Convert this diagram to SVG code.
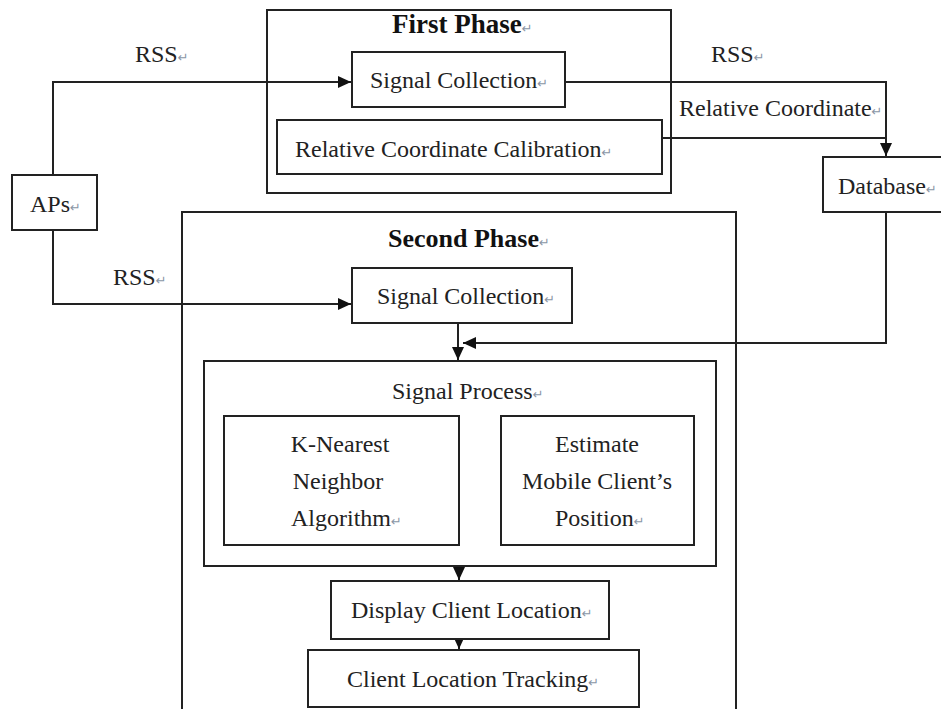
<svg xmlns="http://www.w3.org/2000/svg" width="941" height="709" viewBox="0 0 941 709">
<style>
  .box { fill: #fff; stroke: #222; stroke-width: 2; }
  .frame { fill: none; stroke: #222; stroke-width: 2; }
  .t { font-family: "Liberation Serif", "Times New Roman", serif; font-size: 24px; fill: #222; }
  .b { font-family: "Liberation Serif", "Times New Roman", serif; font-size: 26px; font-weight: bold; fill: #111; }
  .pm { font-family: "DejaVu Sans", sans-serif; font-size: 13px; fill: #8a96a6; font-weight: normal; }
  .c { fill: none; stroke: #222; stroke-width: 2; }
</style>
<defs>
  <marker id="arr" markerUnits="userSpaceOnUse" markerWidth="14" markerHeight="12" refX="13" refY="6" orient="auto">
    <path d="M0,0 L13,6 L0,12 z" fill="#111"/>
  </marker>
</defs>
<rect x="0" y="0" width="941" height="709" fill="#fff"/>

<g id="first-phase">
  <rect class="frame" x="267" y="10" width="404" height="183"/>
  <text class="b" x="392" y="33" style="font-size:27px">First Phase<tspan class="pm">↵</tspan></text>
</g>
<g id="second-phase">
  <rect class="frame" x="182" y="212" width="554" height="510"/>
  <text class="b" x="388" y="247">Second Phase<tspan class="pm">↵</tspan></text>
</g>

<g id="connectors">
  <polyline class="c" points="53,175 53,82 351,82" marker-end="url(#arr)"/>
  <polyline class="c" points="53,230 53,304 351,304" marker-end="url(#arr)"/>
  <polyline class="c" points="565,82 886,82 886,156" marker-end="url(#arr)"/>
  <line class="c" x1="662" y1="138" x2="886" y2="138"/>
  <polyline class="c" points="886,212 886,343 463,343" marker-end="url(#arr)"/>
  <line class="c" x1="458" y1="323" x2="458" y2="360" marker-end="url(#arr)"/>
  <line class="c" x1="459" y1="566" x2="459" y2="580" marker-end="url(#arr)"/>
  <line class="c" x1="459" y1="638" x2="459" y2="649" marker-end="url(#arr)"/>
</g>

<g id="label-rss-1"><text class="t" x="135" y="62">RSS<tspan class="pm">↵</tspan></text></g>
<g id="label-rss-2"><text class="t" x="113" y="285">RSS<tspan class="pm">↵</tspan></text></g>
<g id="label-rss-3"><text class="t" x="711" y="62">RSS<tspan class="pm">↵</tspan></text></g>
<g id="label-relcoord"><text class="t" x="679" y="116">Relative Coordinate<tspan class="pm">↵</tspan></text></g>

<g id="aps">
  <rect class="box" x="12" y="175" width="85" height="55"/>
  <text class="t" x="30" y="212">APs<tspan class="pm">↵</tspan></text>
</g>
<g id="signal-collection-1">
  <rect class="box" x="352" y="52" width="213" height="55"/>
  <text class="t" x="370" y="88">Signal Collection<tspan class="pm">↵</tspan></text>
</g>
<g id="relative-coordinate-calibration">
  <rect class="box" x="277" y="120" width="385" height="54"/>
  <text class="t" x="295" y="157">Relative Coordinate Calibration<tspan class="pm">↵</tspan></text>
</g>
<g id="database">
  <rect class="box" x="823" y="157" width="130" height="55"/>
  <text class="t" x="838" y="194">Database<tspan class="pm">↵</tspan></text>
</g>
<g id="signal-collection-2">
  <rect class="box" x="352" y="268" width="220" height="55"/>
  <text class="t" x="377" y="304">Signal Collection<tspan class="pm">↵</tspan></text>
</g>
<g id="signal-process">
  <rect class="box" x="204" y="361" width="512" height="205"/>
  <text class="t" x="392" y="399">Signal Process<tspan class="pm">↵</tspan></text>
</g>
<g id="knn">
  <rect class="box" x="224" y="416" width="235" height="129"/>
  <text class="t" text-anchor="middle" x="340" y="452">K-Nearest</text>
  <text class="t" text-anchor="middle" x="338" y="489">Neighbor</text>
  <text class="t" x="291" y="526">Algorithm<tspan class="pm">↵</tspan></text>
</g>
<g id="estimate">
  <rect class="box" x="501" y="416" width="193" height="129"/>
  <text class="t" text-anchor="middle" x="597" y="452">Estimate</text>
  <text class="t" text-anchor="middle" x="597" y="489">Mobile Client’s</text>
  <text class="t" x="555" y="526">Position<tspan class="pm">↵</tspan></text>
</g>
<g id="display-client-location">
  <rect class="box" x="331" y="581" width="278" height="58"/>
  <text class="t" x="351" y="618">Display Client Location<tspan class="pm">↵</tspan></text>
</g>
<g id="client-location-tracking">
  <rect class="box" x="308" y="650" width="331" height="57"/>
  <text class="t" x="347" y="687">Client Location Tracking<tspan class="pm">↵</tspan></text>
</g>
</svg>
